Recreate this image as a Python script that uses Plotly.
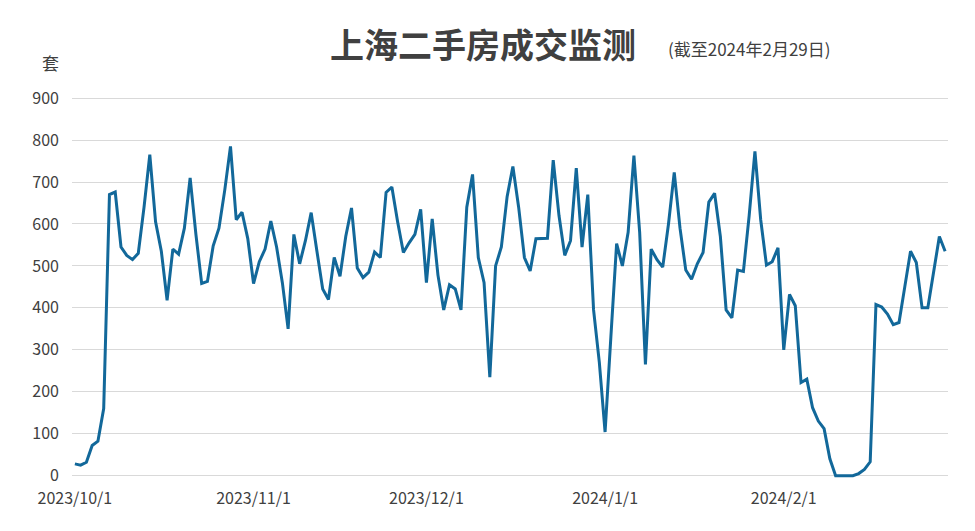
import plotly.graph_objects as go
import pandas as pd

dates = pd.date_range("2023-10-01", "2024-02-29", freq="D")
oct_v = [28, 25, 32, 72, 82, 160, 670, 676, 545, 525, 515, 530, 640, 765, 605, 535, 418, 540, 528, 590, 710, 575, 458, 463, 548, 590, 680, 785, 610, 628, 565]
nov_v = [458, 510, 540, 607, 545, 460, 350, 575, 505, 560, 627, 535, 445, 420, 520, 475, 570, 638, 495, 472, 485, 533, 520, 675, 688, 605, 532, 555, 575, 635]
dec_v = [460, 612, 478, 395, 455, 445, 395, 640, 718, 520, 460, 235, 500, 545, 665, 737, 640, 520, 488, 565, 566, 566, 752, 620, 525, 560, 733, 545, 670, 395, 270]
jan_v = [104, 330, 553, 500, 580, 763, 580, 265, 540, 515, 497, 600, 723, 590, 490, 468, 505, 532, 652, 673, 570, 395, 376, 490, 487, 620, 773, 610, 502, 510, 543]
feb_v = [300, 432, 405, 222, 230, 162, 130, 112, 40, 0, 0, 0, 0, 5, 15, 33, 408, 402, 385, 360, 365, 450, 535, 508, 400, 400, 490, 570, 535]
values = oct_v + nov_v + dec_v + jan_v + feb_v
tick_vals = ["2023-10-01", "2023-11-01", "2023-12-01", "2024-01-01", "2024-02-01"]
tick_text = ["2023/10/1", "2023/11/1", "2023/12/1", "2024/1/1", "2024/2/1"]

L, R, T, B, W, H, OFF = 64, 35, 88, 60, 975, 531, 8
fig = go.Figure(go.Scatter(x=dates, y=values, mode="lines",
                           line=dict(color="#12689a", width=3)))
font = "Noto Sans CJK SC"
fig.update_layout(
    width=W, height=H, plot_bgcolor="white", paper_bgcolor="white",
    margin=dict(l=L, r=R, t=T, b=B), showlegend=False,
    font=dict(family=font, color="#404040", size=16),
    xaxis=dict(range=["2023-09-30 12:00", "2024-02-29 12:00"], tickvals=tick_vals, ticktext=tick_text,
               showgrid=False, showline=False, ticks="", tickfont=dict(size=16, color="#404040"),
               ticklabelstandoff=8),
    yaxis=dict(range=[-8, 905], tickvals=list(range(0, 1000, 100)), gridcolor="#d9d9d9",
               zeroline=False, ticks="", tickfont=dict(size=16, color="#404040"), ticklabelstandoff=12),
)
def ann(text, px, py, size, anchor="center"):
    fig.add_annotation(text=text, xref="paper", yref="paper", showarrow=False,
                       xanchor=anchor, yanchor="middle",
                       x=(px - OFF - L) / (W - L - R), y=(H - B - (py - OFF)) / (H - T - B),
                       font=dict(size=size, color="#404040", family=font))
ann("<b>上海二手房成交监测</b>", 483, 44, 34)
ann("(截至2024年2月29日)", 666, 48, 17, "left")
ann("套", 50, 62, 17)
fig.write_html("out.html")
